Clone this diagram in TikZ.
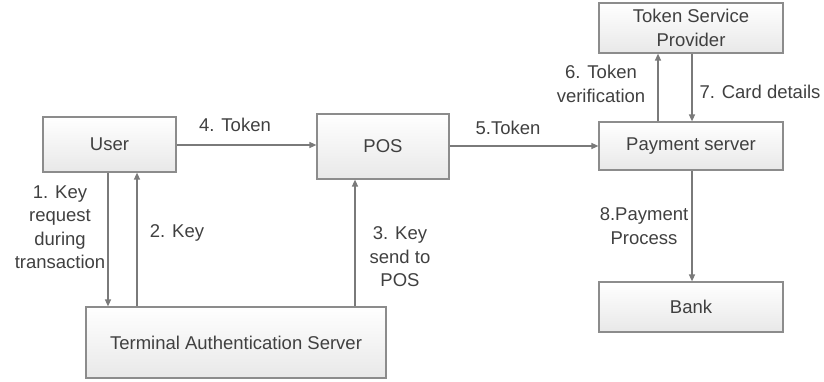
\documentclass[tikz,border=0pt]{standalone}
\usepackage{fontspec}
\setmainfont{Liberation Sans}
\usetikzlibrary{arrows.meta}
\definecolor{boxline}{HTML}{8C8C8C}
\definecolor{arrline}{HTML}{7A7A7A}
\definecolor{txt}{HTML}{404040}

\begin{document}
\begin{tikzpicture}[x=1pt,y=-1pt,-{Triangle[length=7pt,width=6pt]}]
  \def\fs{\fontsize{18.5}{23.5}\selectfont}

\tikzstyle{block}=[draw=boxline,line width=1.2pt,top color=white,bottom color=black!9,text=txt,font=\fs,inner sep=0pt,align=center]
\tikzstyle{arr}=[draw=arrline,line width=1.3pt]
\tikzstyle{lbl}=[text=txt,font=\fs,align=center,inner sep=0pt]

\useasboundingbox (0,0) rectangle (824,381);

\node[block,minimum width=133pt,minimum height=55pt] (User) at (109.5,144.5) {User};
\node[block,minimum width=132pt,minimum height=65pt] (POS) at (383,146.5) {POS};
\node[block,minimum width=300pt,minimum height=71pt] (TAS) at (236,342.5) {Terminal Authentication Server};
\node[block,minimum width=184pt,minimum height=50pt] (TSP) at (691,28) {Token Service\\Provider};
\node[block,minimum width=184pt,minimum height=48pt] (PAY) at (691,146) {Payment server};
\node[block,minimum width=184pt,minimum height=50pt] (Bank) at (691,307) {Bank};

\draw[arr] (User.south -| 108,0) -- (TAS.north -| 108,0);
\draw[arr] (TAS.north -| 137,0) -- (User.south -| 137,0);
\draw[arr] (User.east |- 0,145) -- (POS.west |- 0,145);
\draw[arr] (TAS.north -| 355,0) -- (POS.south -| 355,0);
\draw[arr] (POS.east |- 0,146) -- (PAY.west |- 0,146);
\draw[arr] (PAY.north -| 658,0) -- (TSP.south -| 658,0);
\draw[arr] (TSP.south -| 692,0) -- (PAY.north -| 692,0);
\draw[arr] (PAY.south -| 692,0) -- (Bank.north -| 692,0);

\node[lbl] (L1) at (60,227) {1. Key\\request\\during\\transaction};
\node[lbl] (L2) at (177,233) {2. Key};
\node[lbl] (L3) at (400,257) {3. Key\\send to\\POS};
\node[lbl] (L4) at (235,125) {4. Token};
\node[lbl] (L5) at (508,128) {5.Token};
\node[lbl] (L6) at (601,84) {6. Token\\verification};
\node[lbl] (L7) at (760,92) {7. Card details};
\node[lbl] (L8) at (644,226) {8.Payment\\Process};
\end{tikzpicture}
\end{document}
